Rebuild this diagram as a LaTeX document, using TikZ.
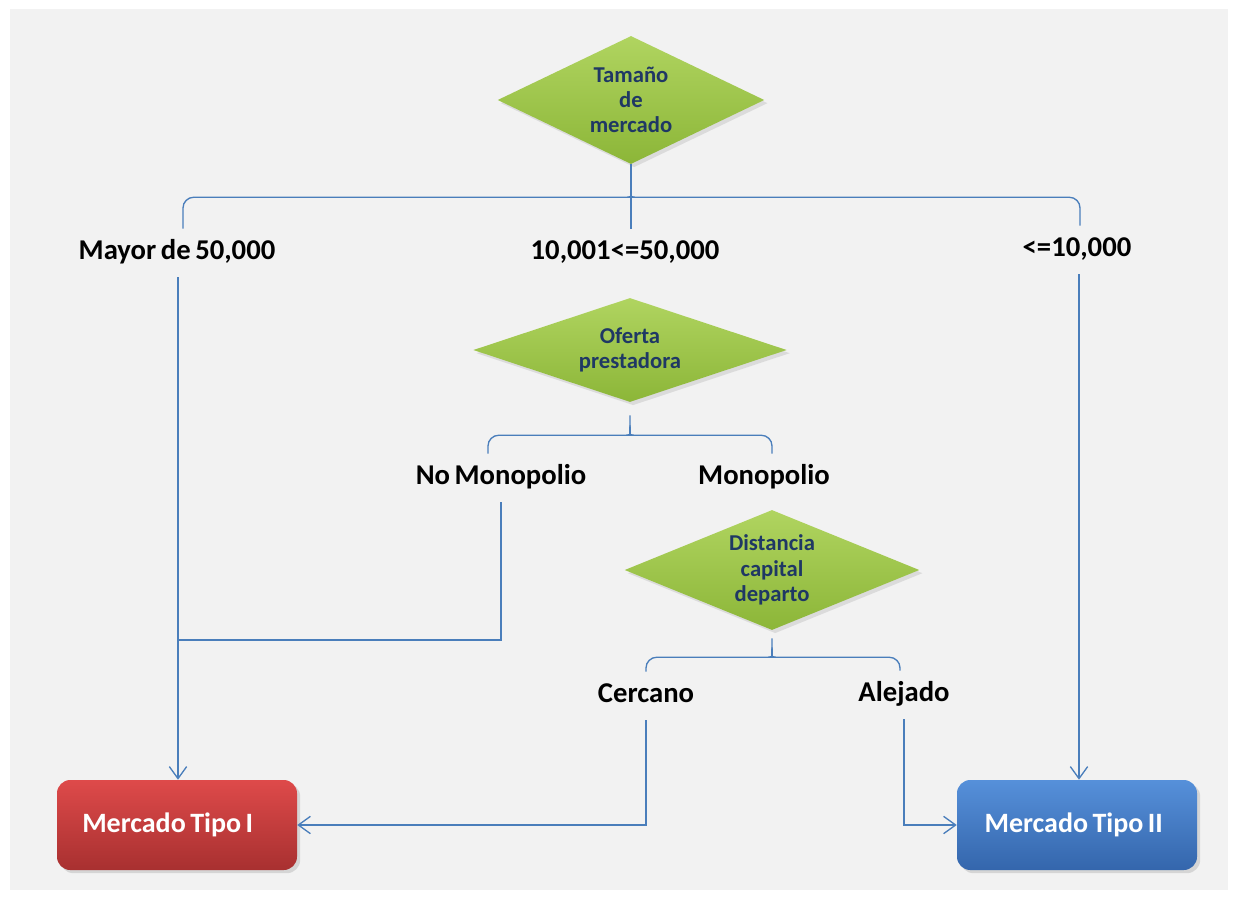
\documentclass[tikz,border=0pt]{standalone}
\usepackage{fontspec}
\setmainfont{Carlito}
\usepackage{xcolor}
\usepackage{tikz}
\usetikzlibrary{shapes.geometric, arrows.meta, calc, shadows}

\definecolor{fondo}{RGB}{242,242,242}
\definecolor{azullinea}{RGB}{74,126,187}
\definecolor{verdearriba}{RGB}{176,212,96}
\definecolor{verdeabajo}{RGB}{140,182,56}
\definecolor{textodiamante}{RGB}{31,56,100}
\definecolor{rojoarriba}{RGB}{222,74,74}
\definecolor{rojoabajo}{RGB}{168,48,48}
\definecolor{azularriba}{RGB}{86,144,218}
\definecolor{azulabajo}{RGB}{52,102,172}

\begin{document}
\begin{tikzpicture}[x=0.75pt,y=0.75pt,yscale=-1,xscale=1,
  decision/.style={diamond, inner sep=0pt, top color=verdearriba,
    bottom color=verdeabajo, text=textodiamante, align=center,
    font=\bfseries\fontsize{17}{19}\selectfont, drop shadow={opacity=0.2}},
  rama/.style={font=\bfseries\fontsize{21.5}{24}\selectfont,
    execute at begin node={\spaceskip=0.16em\relax},
    inner xsep=2pt, inner ysep=9pt, text height=14pt, text depth=4pt},
  resultado/.style={rectangle, rounded corners=10pt, minimum width=180pt,
    minimum height=67.5pt, text=white,
    font=\bfseries\fontsize{21}{24}\selectfont,
    execute at begin node={\spaceskip=0.16em\relax},
    drop shadow={opacity=0.25}},
  conector/.style={draw=azullinea, line width=1pt},
  flecha/.style={conector, -{Straight Barb[length=9pt,width=13pt]}}]
\useasboundingbox (0,0) rectangle (1238,899);

%Shape: background
\fill[fondo] (10,9) rectangle (1228,890);

% Decision nodes
\node[decision, aspect=2.09, minimum width=200pt, minimum height=96pt]
  (tamano) at (631,100) {Tamaño\\de\\mercado};
\node[decision, aspect=3, minimum width=235pt, minimum height=78pt]
  (oferta) at (630,350) {Oferta\\prestadora};
\node[decision, aspect=2.46, minimum width=221pt, minimum height=90pt]
  (distancia) at (772,570) {Distancia\\capital\\departo};

% Text Node
\node[rama] (mayor) at (177,253) {Mayor de 50,000};
\node[rama] (medio) at (625,253) {10,001<=50,000};
\node[rama] (menor) at (1077,250) {<=10,000};
\node[rama] (nomono) at (501,478) {No Monopolio};
\node[rama] (mono) at (764,478) {Monopolio};
\node[rama] (cercano) at (646,696) {Cercano};
\node[rama] (alejado) at (904,695) {Alejado};

% Result boxes
\node[resultado, top color=rojoarriba, bottom color=rojoabajo]
  (tipo1) at (177,825) {Mercado Tipo I\kern14pt};
\node[resultado, top color=azularriba, bottom color=azulabajo]
  (tipo2) at (1077,825) {Mercado Tipo II\kern5pt};

%Brace: tamano de mercado
\coordinate (llave1) at ($(tamano.south)+(0,33)$);
\draw[conector] (tamano.south) -- (tamano.south |- medio.north);
\draw[conector] ($(mayor.north)+(6,0)$) [rounded corners=8] |- ($(llave1)+(-7,0)$)
  [sharp corners] .. controls ($(llave1)+(-2,0)$) and ($(llave1)+(0,-3)$) .. ($(llave1)+(0,-10)$);
\draw[conector] ($(menor.north)+(3,0)$) [rounded corners=8] |- ($(llave1)+(7,0)$)
  [sharp corners] .. controls ($(llave1)+(2,0)$) and ($(llave1)+(0,-3)$) .. ($(llave1)+(0,-10)$);

%Brace: oferta prestadora
\coordinate (llave2) at ($(oferta.south)+(0,33)$);
\draw[conector] ($(nomono.north)+(-13,0)$) [rounded corners=8] |- ($(llave2)+(-7,0)$)
  [sharp corners] .. controls ($(llave2)+(-2,0)$) and ($(llave2)+(0,-3)$) .. ($(llave2)+(0,-10)$)
  -- ($(llave2)+(0,-20)$);
\draw[conector] ($(mono.north)+(8,0)$) [rounded corners=8] |- ($(llave2)+(7,0)$)
  [sharp corners] .. controls ($(llave2)+(2,0)$) and ($(llave2)+(0,-3)$) .. ($(llave2)+(0,-10)$);

%Brace: distancia capital
\coordinate (llave3) at ($(distancia.south)+(0,27)$);
\draw[conector] (cercano.north) [rounded corners=8] |- ($(llave3)+(-7,0)$)
  [sharp corners] .. controls ($(llave3)+(-2,0)$) and ($(llave3)+(0,-3)$) .. ($(llave3)+(0,-10)$)
  -- ($(llave3)+(0,-19)$);
\draw[conector] ($(alejado.north)+(-4,0)$) [rounded corners=8] |- ($(llave3)+(7,0)$)
  [sharp corners] .. controls ($(llave3)+(2,0)$) and ($(llave3)+(0,-3)$) .. ($(llave3)+(0,-10)$);

%Straight Lines
\draw[flecha] ($(mayor.south)+(1,0)$) -- ($(mayor.south |- tipo1.north)+(1,0)$);
\draw[conector] (nomono.south) |- ($(mayor.south |- 0,640)+(1,0)$);
\draw[flecha] (cercano.south) |- (tipo1.east);
\draw[flecha] (alejado.south) |- (tipo2.west);
\draw[flecha] ($(menor.south)+(2,0)$) -- ($(menor.south |- tipo2.north)+(2,0)$);

\end{tikzpicture}
\end{document}
